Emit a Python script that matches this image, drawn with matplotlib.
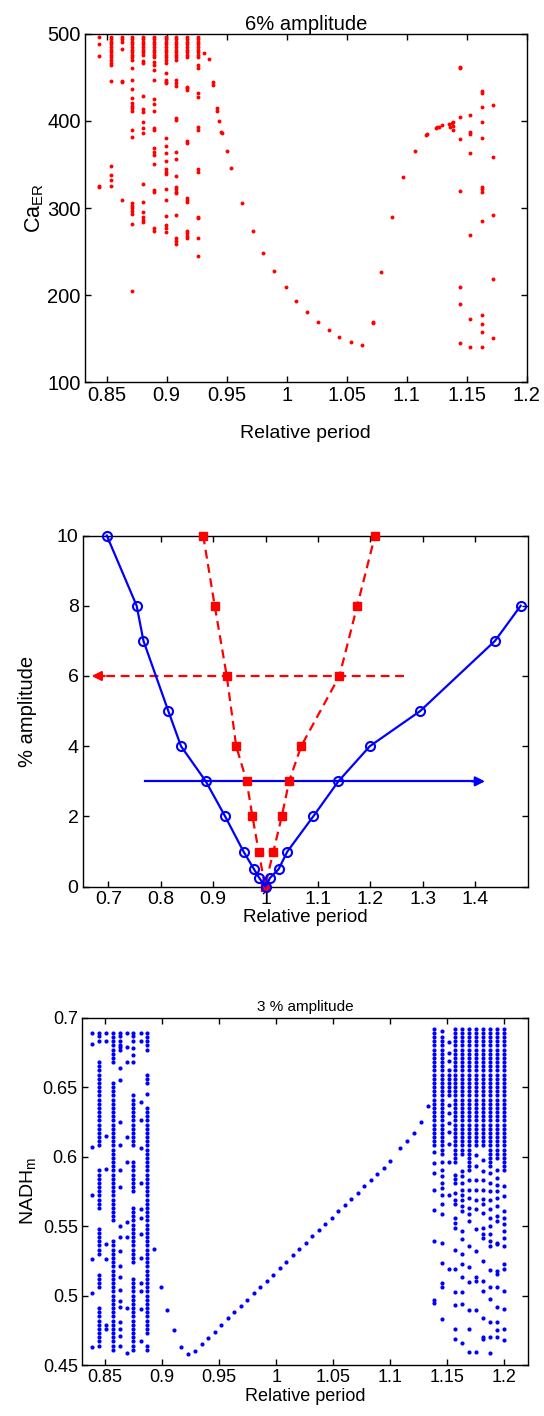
import matplotlib
matplotlib.use("Agg")
import matplotlib.pyplot as plt
from matplotlib.ticker import FuncFormatter

plt.rcParams['font.family'] = ['Liberation Sans', 'DejaVu Sans']

# ---------------- Panel 1: Ca_ER vs relative period (6% amplitude) ----------------
ca_dense_levels = [497, 494, 491, 488, 485, 482, 479, 476, 473, 470, 467, 464]
# columns: (x, dense-run bottom (or None), sparse values)
ca_columns = [
    (0.8437, None, [496.2, 488.5, 474.7, 325.7, 323.8]),
    (0.8534, 462, [446.4, 348.7, 337.9, 331.8, 325.7]),
    (0.8626, None, [496.2, 493.9, 491.2, 482.4, 446.4, 444.8, 309.2]),
    (0.8709, 469, [460.5, 447.1, 436.4, 426.4, 420.3, 417.2, 414.6, 411.9, 389.7, 382.0,
                   305.4, 302.7, 299.6, 296.9, 293.1, 281.6, 204.6]),
    (0.8803, 474, [469.3, 466.3, 429.1, 413.4, 410.7, 398.5, 391.6, 386.6, 327.2, 307.3,
                   295.8, 290.0, 286.2, 283.5]),
    (0.8895, 473, [468.2, 464.4, 458.6, 447.1, 425.3, 419.5, 411.5, 391.6, 389.7, 368.6,
                   364.8, 360.9, 350.6, 320.7, 318.8, 276.6, 274.0]),
    (0.8992, 470, [466.3, 455.6, 447.1, 445.2, 443.3, 380.1, 371.6, 363.6, 354.4, 344.8,
                   341.8, 339.1, 321.5, 309.2, 290.8, 280.5, 276.6, 272.0]),
    (0.9076, 470, [447.1, 443.3, 440.6, 403.1, 401.1, 364.8, 355.9, 337.2, 323.8, 321.5,
                   318.8, 316.9, 291.9, 265.1, 262.5, 258.6]),
    (0.9168, 471, [439.5, 437.5, 435.6, 377.4, 375.1, 311.1, 309.2, 306.5, 274.0, 270.9,
                   267.8, 265.1]),
    (0.9264, 472, [464.4, 460.5, 432.6, 427.2, 392.7, 389.7, 344.8, 341.8, 290.0, 288.1,
                   265.1, 245.2]),
    (1.1448, None, [462.5, 460.5, 404.2, 378.9, 319.9, 208.8, 189.7, 144.8]),
    (1.1531, None, [406.5, 387.7, 385.4, 362.8, 269.3, 172.4, 140.6]),
    (1.1626, None, [434.5, 431.8, 415.7, 398.5, 380.5, 324.5, 321.5, 318.4, 285.4, 176.6,
                    167.0, 157.5, 139.8]),
    (1.1720, None, [418.8, 359.0, 292.0, 218.8, 150.9]),
]
ca_branch_x = [0.9312, 0.9356, 0.9389, 0.9389, 0.9423, 0.9423, 0.9439, 0.9456, 0.9458,
               0.9500, 0.9534, 0.9626, 0.9720, 0.9803, 0.9898, 0.9992, 1.0076, 1.0170,
               1.0262, 1.0356, 1.0439, 1.0534, 1.0626, 1.0723, 1.0723, 1.0787, 1.0881,
               1.0973, 1.1067, 1.1162, 1.1167, 1.1248, 1.1256, 1.1273, 1.1295, 1.1356,
               1.1362, 1.1376, 1.1389, 1.1389, 1.1389]
ca_branch_y = [477.8, 470.9, 445.2, 441.4, 414.6, 411.9, 400.0, 387.7, 386.6,
               365.5, 346.4, 306.1, 274.0, 248.7, 227.2, 209.2, 193.5, 180.5,
               169.3, 159.4, 151.7, 146.0, 142.5, 169.3, 168.2, 226.4, 289.3,
               336.0, 365.5, 383.9, 385.1, 391.6, 392.7, 393.5, 395.0, 396.6,
               393.5, 398.1, 399.2, 394.3, 389.7]

# ---------------- Panel 2: Arnold-tongue style curves ----------------
blue_x = [0.697, 0.754, 0.767, 0.8145, 0.8387, 0.886, 0.923, 0.958, 0.978, 0.988, 1.0,
          1.0085, 1.025, 1.0416, 1.091, 1.139, 1.199, 1.295, 1.438, 1.487]
blue_y = [10, 8, 7, 5, 4, 3, 2, 1, 0.5, 0.25, 0, 0.25, 0.5, 1, 2, 3, 4, 5, 7, 8]
red_x = [0.881, 0.903, 0.926, 0.944, 0.964, 0.975, 0.987, 0.999, 1.015, 1.031, 1.045,
         1.068, 1.141, 1.175, 1.209]
red_y = [10, 8, 6, 4, 3, 2, 1, 0, 1, 2, 3, 4, 6, 8, 10]
red_arrow_x = (1.265, 0.668)
red_arrow_y = 6
blue_arrow_x = (0.770, 1.419)
blue_arrow_y = 3

# ---------------- Panel 3: NADH_m vs relative period (3 % amplitude) ----------------
nadh_levels = [0.692, 0.689, 0.686, 0.683, 0.680, 0.677, 0.674, 0.671, 0.668, 0.665,
               0.662, 0.659, 0.656, 0.653, 0.650, 0.647, 0.644, 0.641, 0.638, 0.635,
               0.632, 0.629, 0.626, 0.623, 0.620, 0.617, 0.614, 0.611, 0.608, 0.605,
               0.602, 0.599, 0.596, 0.593, 0.590, 0.587, 0.584, 0.581, 0.578, 0.575,
               0.572, 0.569, 0.566, 0.563, 0.560, 0.557, 0.554, 0.551, 0.548, 0.545,
               0.542, 0.539, 0.536, 0.533, 0.530, 0.527, 0.524, 0.521, 0.518, 0.515,
               0.512, 0.509, 0.506, 0.503, 0.500, 0.497, 0.494, 0.491, 0.488, 0.485,
               0.482, 0.479, 0.476, 0.473, 0.470, 0.467, 0.464, 0.461, 0.458]
# columns: (x, dense segments [(top, bottom)], sparse values)
nadh_columns = [
    (0.8386, [], [0.689, 0.681, 0.607, 0.572, 0.526, 0.502, 0.463]),
    (0.8445, [(0.670, 0.607), (0.590, 0.563), (0.548, 0.528), (0.517, 0.506), (0.492, 0.463)],
     [0.689, 0.687, 0.683]),
    (0.8504, [], [0.689, 0.683, 0.615, 0.591, 0.537, 0.526, 0.479, 0.476]),
    (0.8565, [(0.689, 0.667), (0.655, 0.553), (0.540, 0.460)], []),
    (0.8629, [], [0.689, 0.687, 0.683, 0.680, 0.679, 0.677, 0.664, 0.655, 0.625, 0.608,
                  0.590, 0.578, 0.550, 0.542, 0.532, 0.521, 0.513, 0.504, 0.496, 0.492,
                  0.481, 0.476, 0.471, 0.464]),
    (0.8688, [], [0.689, 0.679, 0.668, 0.614, 0.596, 0.553, 0.542, 0.491, 0.459]),
    (0.8746, [(0.646, 0.607), (0.596, 0.575), (0.564, 0.523), (0.512, 0.460)],
     [0.689, 0.687, 0.683, 0.678, 0.673, 0.668]),
    (0.8811, [], [0.689, 0.683, 0.639, 0.626, 0.606, 0.581, 0.562, 0.556, 0.544, 0.527,
                  0.509, 0.503, 0.490, 0.467]),
    (0.8866, [(0.689, 0.677), (0.661, 0.652), (0.636, 0.471)], [0.645, 0.464, 0.461]),
    (1.1386, [(0.692, 0.606)], [0.6036, 0.5952, 0.588, 0.5762, 0.5612, 0.5393, 0.497, 0.4945]),
    (1.1451, [(0.686, 0.602)], [0.690, 0.5964, 0.5905, 0.5857, 0.581, 0.5774, 0.5721, 0.566,
                                0.5588, 0.5381, 0.5233, 0.5088, 0.5064, 0.4833]),
    (1.1515, [(0.663, 0.642)], [0.6826, 0.6745, 0.6686, 0.637, 0.631, 0.6238, 0.6179, 0.6088,
                                0.596, 0.572, 0.519]),
    (1.1568, [(0.692, 0.594), (0.589, 0.580)], [0.5738, 0.569, 0.5655, 0.556, 0.5524, 0.5488,
                                                0.5326, 0.519, 0.5024, 0.4929, 0.4762, 0.469]),
    (1.1632, [(0.692, 0.601)], [0.5893, 0.5857, 0.581, 0.5762, 0.5726, 0.569, 0.5643, 0.5607,
                                0.5464, 0.5405, 0.5298, 0.5226, 0.5131, 0.5024, 0.4941, 0.4655]),
    (1.1693, [(0.692, 0.589)], [0.5833, 0.5762, 0.5702, 0.5631, 0.5588, 0.5536, 0.5357, 0.5202,
                                0.5095, 0.4893, 0.4757, 0.4591]),
    (1.1752, [(0.692, 0.608)], [0.6012, 0.5929, 0.5833, 0.5762, 0.569, 0.5619, 0.5476, 0.5321,
                                0.5131, 0.5107, 0.4893, 0.4595]),
    (1.1816, [(0.692, 0.606)], [0.5976, 0.5893, 0.5833, 0.5762, 0.5695, 0.5655, 0.5595, 0.5488,
                                0.5445, 0.5412, 0.525, 0.5107, 0.5029, 0.4841, 0.4702, 0.469]),
    (1.1875, [(0.692, 0.593)], [0.588, 0.581, 0.575, 0.569, 0.5619, 0.556, 0.55, 0.544, 0.5393,
                                0.5357, 0.5183, 0.506, 0.4976, 0.481, 0.4702, 0.4583]),
    (1.1939, [(0.692, 0.599)], [0.5905, 0.5845, 0.5798, 0.575, 0.5702, 0.5643, 0.5571, 0.5536,
                                0.5381, 0.5369, 0.5179, 0.5155, 0.506, 0.4917, 0.481, 0.475,
                                0.4702]),
    (1.1997, [(0.692, 0.589)], [0.5786, 0.5714, 0.5607, 0.556, 0.5512, 0.5464, 0.5417, 0.5357,
                                0.5226, 0.519, 0.5036, 0.4905, 0.4762, 0.4679]),
]
nadh_branch_x = [0.8927, 0.8989, 0.9044, 0.9100, 0.9165, 0.9223, 0.9287,
                 0.9345, 0.9402, 0.9459, 0.9516, 0.9573, 0.9630, 0.9687, 0.9744, 0.9801,
                 0.9858, 0.9915, 0.9972, 1.0029, 1.0086, 1.0143, 1.0200, 1.0257, 1.0314,
                 1.0371, 1.0428, 1.0485, 1.0542, 1.0599, 1.0656, 1.0713, 1.0770, 1.0827,
                 1.0884, 1.0941, 1.0998, 1.1085, 1.1149, 1.1208, 1.1269, 1.1333]
nadh_branch_y = [0.5337, 0.506, 0.4893, 0.475, 0.4627, 0.458, 0.460,
                 0.465, 0.4695, 0.474, 0.479, 0.4835, 0.488, 0.4925, 0.497, 0.5015,
                 0.506, 0.5105, 0.515, 0.5195, 0.524, 0.529, 0.5335, 0.538, 0.5425,
                 0.547, 0.5515, 0.556, 0.5605, 0.565, 0.5695, 0.574, 0.5785, 0.583,
                 0.5875, 0.592, 0.5965, 0.606, 0.611, 0.617, 0.6245, 0.636]

# ---------------- drawing ----------------
fig = plt.figure(figsize=(5.44, 14.16), dpi=100)
fmt = FuncFormatter(lambda v, p: f"{v:g}")


def style(ax, fs):
    ax.tick_params(direction='in', top=True, right=True, length=4, width=1,
                   labelsize=fs, colors='black', pad=3)
    for s in ax.spines.values():
        s.set_linewidth(1.0)
        s.set_color('black')
    ax.xaxis.set_major_formatter(fmt)
    ax.yaxis.set_major_formatter(fmt)


# Panel 1
ax1 = fig.add_axes([0.1562, 0.7302, 0.8119, 0.2458])
px, py = [], []
for x, dense_bottom, sparse in ca_columns:
    if dense_bottom is not None:
        for lv in ca_dense_levels:
            if lv >= dense_bottom:
                px.append(x)
                py.append(lv)
    for v in sparse:
        px.append(x)
        py.append(v)
px += ca_branch_x
py += ca_branch_y
ax1.plot(px, py, 'o', color='#ff0000', ms=2.8, mew=0, linestyle='none')
ax1.set_xlim(0.832, 1.2)
ax1.set_ylim(100, 500)
ax1.set_xticks([0.85, 0.9, 0.95, 1.0, 1.05, 1.1, 1.15, 1.2])
ax1.set_yticks([100, 200, 300, 400, 500])
style(ax1, 14.5)
ax1.set_title('6% amplitude', fontsize=14.5, pad=3)
ax1.set_xlabel('Relative period', fontsize=14, labelpad=14)
ax1.set_ylabel(r'Ca$_\mathregular{ER}$', fontsize=15.5, labelpad=1)

# Panel 2
ax2 = fig.add_axes([0.152, 0.3738, 0.8186, 0.248])
ax2.plot(red_x, red_y, color='#ff0000', lw=1.6, linestyle=(0, (4, 2.5)),
         marker='s', ms=5.5, mec='#ff0000', mfc='#ff0000', zorder=3)
ax2.plot(blue_x, blue_y, color='#0000ff', lw=1.6, marker='o', ms=6.5,
         mfc='none', mec='#0000ff', mew=1.5, zorder=4)
# arrows
ax2.plot([red_arrow_x[0], red_arrow_x[1] + 0.02], [red_arrow_y, red_arrow_y],
         color='#ff0000', lw=1.6, linestyle=(0, (4, 2.5)), zorder=2)
ax2.annotate('', xy=(red_arrow_x[1], red_arrow_y), xytext=(red_arrow_x[1] + 0.025, red_arrow_y),
             arrowprops=dict(arrowstyle='-|>', color='#ff0000', lw=1.6,
                             mutation_scale=14, shrinkA=0, shrinkB=0))
ax2.plot([blue_arrow_x[0], blue_arrow_x[1] - 0.02], [blue_arrow_y, blue_arrow_y],
         color='#0000ff', lw=1.6, zorder=2)
ax2.annotate('', xy=(blue_arrow_x[1], blue_arrow_y), xytext=(blue_arrow_x[1] - 0.025, blue_arrow_y),
             arrowprops=dict(arrowstyle='-|>', color='#0000ff', lw=1.6,
                             mutation_scale=14, shrinkA=0, shrinkB=0))
ax2.set_xlim(0.651, 1.501)
ax2.set_ylim(0, 10)
ax2.set_xticks([0.7, 0.8, 0.9, 1.0, 1.1, 1.2, 1.3, 1.4])
ax2.set_yticks([0, 2, 4, 6, 8, 10])
style(ax2, 14)
ax2.set_xlabel('Relative period', fontsize=13.5, labelpad=1)
ax2.set_ylabel('% amplitude', fontsize=14.5, labelpad=14)
for l in ax2.lines:
    l.set_clip_on(False)

# Panel 3
ax3 = fig.add_axes([0.1507, 0.036, 0.8193, 0.2454])
qx, qy = [], []
for x, segs, sparse in nadh_columns:
    for top, bot in segs:
        for lv in nadh_levels:
            if bot - 1e-9 <= lv <= top + 1e-9:
                qx.append(x)
                qy.append(lv)
    for v in sparse:
        qx.append(x)
        qy.append(v)
qx += nadh_branch_x
qy += nadh_branch_y
ax3.plot(qx, qy, 'o', color='#0000ff', ms=3.0, mew=0, linestyle='none')
ax3.set_xlim(0.8296, 1.2205)
ax3.set_ylim(0.45, 0.7)
ax3.set_xticks([0.85, 0.9, 0.95, 1.0, 1.05, 1.1, 1.15, 1.2])
ax3.set_yticks([0.45, 0.5, 0.55, 0.6, 0.65, 0.7])
style(ax3, 13)
ax3.set_title('3 % amplitude', fontsize=11, pad=5)
ax3.set_xlabel('Relative period', fontsize=13, labelpad=1)
ax3.set_ylabel(r'NADH$_\mathregular{m}$', fontsize=14, labelpad=3)

fig.savefig('out.png', dpi=100)
